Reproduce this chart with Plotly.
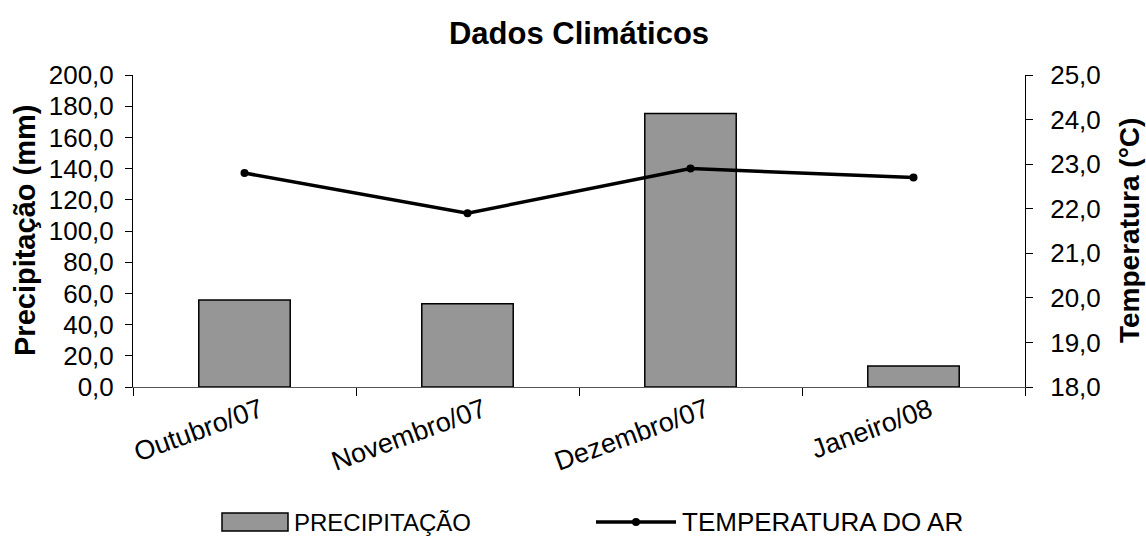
import plotly.graph_objects as go

# Monthly climate data
meses = ["Outubro/07", "Novembro/07", "Dezembro/07", "Janeiro/08"]
precipitacao = [55.8, 53.3, 175.4, 13.4]      # mm
temperatura = [22.8, 21.9, 22.9, 22.7]         # °C

FONT = "Liberation Sans, Arial, sans-serif"
W, H = 1146, 537
ML, MR, MT, MB = 133, 121, 75, 150
PW, PH = W - ML - MR, H - MT - MB


def px(x):
    """pixel x -> paper x"""
    return (x - ML) / PW


def py(y):
    """pixel y -> paper y"""
    return (H - MB - y) / PH


fig = go.Figure()

fig.add_trace(go.Bar(
    x=meses, y=precipitacao, name="PRECIPITAÇÃO",
    width=0.41,
    marker=dict(color="#969696", line=dict(color="black", width=1.5)),
    yaxis="y", xaxis="x",
))

fig.add_trace(go.Scatter(
    x=meses, y=temperatura, name="TEMPERATURA DO AR",
    mode="lines+markers",
    line=dict(color="black", width=3.5),
    marker=dict(color="black", size=8),
    yaxis="y2", xaxis="x",
))

tick_font = dict(family=FONT, size=26, color="black")

fig.update_layout(
    width=W, height=H,
    margin=dict(l=ML, r=MR, t=MT, b=MB, pad=0),
    paper_bgcolor="white", plot_bgcolor="white",
    separators=",.",
    showlegend=False,
    font=dict(family=FONT, color="black"),
    title=dict(
        text="<b>Dados Climáticos</b>",
        font=dict(family=FONT, size=31, color="black"),
        x=0.5, xref="paper", xanchor="center",
        y=1 - 33 / H, yref="container", yanchor="middle",
    ),
    xaxis=dict(
        type="category", tickson="boundaries",
        ticks="outside", ticklen=8, tickcolor="black", tickwidth=1,
        showline=True, linecolor="#555555", linewidth=1,
        showgrid=False, zeroline=False,
        tickangle=-20, tickfont=dict(family=FONT, size=27, color="black"),
        ticklabelshift=16, ticklabelstandoff=-4,
    ),
    xaxis2=dict(
        overlaying="x", anchor="y", range=[-0.5, 3.5],
        tickvals=[0.5, 1.5, 2.5], ticks="inside", ticklen=8,
        tickcolor="black", showticklabels=False, showgrid=False,
        zeroline=False, showline=False, side="bottom",
    ),
    yaxis=dict(
        range=[0, 200], dtick=20, tickformat=".1f",
        ticks="outside", ticklen=7, tickcolor="black",
        showline=True, linecolor="black", linewidth=1,
        showgrid=False, zeroline=False,
        tickfont=tick_font, ticklabelstandoff=6,
    ),
    yaxis2=dict(
        range=[18, 25], dtick=1, tickformat=".1f",
        overlaying="y", side="right", anchor="x",
        ticks="outside", ticklen=7, tickcolor="black",
        showline=True, linecolor="black", linewidth=1,
        showgrid=False, zeroline=False,
        tickfont=tick_font, ticklabelstandoff=12,
    ),
    yaxis3=dict(
        range=[0, 200], dtick=20, overlaying="y", side="left", anchor="x",
        ticks="inside", ticklen=7, tickcolor="black",
        showticklabels=False, showgrid=False, zeroline=False, showline=False,
    ),
    yaxis4=dict(
        range=[18, 25], dtick=1, overlaying="y", side="right", anchor="x",
        ticks="inside", ticklen=7, tickcolor="black",
        showticklabels=False, showgrid=False, zeroline=False, showline=False,
    ),
)

# Axis titles
fig.add_annotation(
    text="<b>Precipitação (mm)</b>", textangle=-90,
    x=px(25), y=0.5, xref="paper", yref="paper",
    xanchor="center", yanchor="middle", showarrow=False,
    font=dict(family=FONT, size=29, color="black"),
)
fig.add_annotation(
    text="<b>Temperatura (°C)</b>", textangle=-90,
    x=px(1129), y=0.5, xref="paper", yref="paper",
    xanchor="center", yanchor="middle", showarrow=False,
    font=dict(family=FONT, size=28, color="black"),
)

# Legend below the chart
leg_y = 522
fig.add_shape(
    type="rect", xref="paper", yref="paper",
    x0=px(222), x1=px(288), y0=py(513), y1=py(531),
    fillcolor="#969696", line=dict(color="black", width=1.5),
)
fig.add_annotation(
    text="PRECIPITAÇÃO", x=px(292), y=py(leg_y),
    xref="paper", yref="paper", xanchor="left", yanchor="middle",
    showarrow=False, font=dict(family=FONT, size=24, color="black"),
)
fig.add_shape(
    type="line", xref="paper", yref="paper",
    x0=px(596), x1=px(676), y0=py(leg_y), y1=py(leg_y),
    line=dict(color="black", width=3.5),
)
fig.add_shape(
    type="circle", xref="paper", yref="paper",
    xsizemode="pixel", ysizemode="pixel",
    xanchor=px(636), yanchor=py(leg_y),
    x0=-4, x1=4, y0=-4, y1=4,
    fillcolor="black", line=dict(color="black", width=0),
)
fig.add_annotation(
    text="TEMPERATURA DO AR", x=px(680), y=py(leg_y),
    xref="paper", yref="paper", xanchor="left", yanchor="middle",
    showarrow=False, font=dict(family=FONT, size=26, color="black"),
)

fig.write_html("out.html")
